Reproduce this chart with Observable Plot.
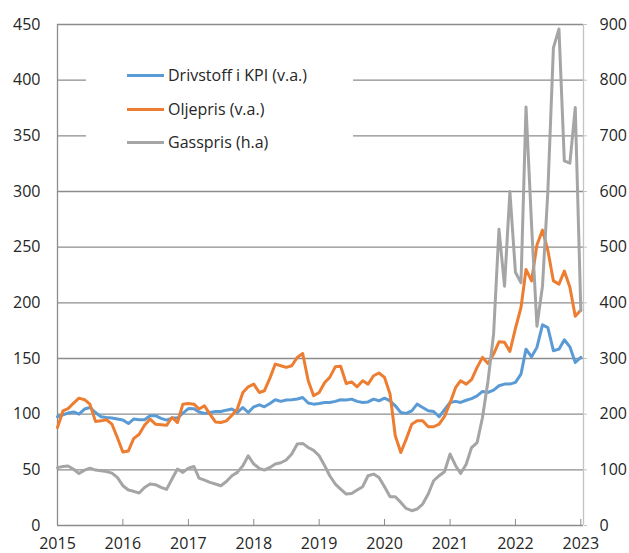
<!DOCTYPE html>
<html><head><meta charset="utf-8">
<script src="https://cdn.jsdelivr.net/npm/d3@7"></script>
<script src="https://cdn.jsdelivr.net/npm/@observablehq/plot@0.6"></script>
<style>
body{margin:0;background:#fff;font-family:"Open Sans",sans-serif;}
#wrap{position:relative;width:629px;height:553px;overflow:hidden;}
#legend{position:absolute;left:86px;top:56px;width:267px;height:108px;background:#fff;}
.row{position:absolute;left:0;height:20px;display:flex;align-items:center;font-size:16px;color:#262626;white-space:nowrap;}
.sw{display:inline-block;width:37px;height:3px;margin-left:41px;margin-right:4px;}
</style></head><body><div id="wrap"></div>
<script>
const startMonth = "2015-01-01";
const endDomain = "2023-01-16";
const seriesNames = ["Drivstoff i KPI (v.a.)", "Oljepris (v.a.)", "Gasspris (h.a)"];
const seriesColors = ["#5b9bd5", "#ed7d31", "#a5a5a5"];
const leftTicks = [0, 50, 100, 150, 200, 250, 300, 350, 400, 450];
const yearTicks = [2015, 2016, 2017, 2018, 2019, 2020, 2021, 2022, 2023];

// Drivstoff i KPI (venstre akse), månedlig 2015-01 .. 2023-01
const drivstoff = [
  97.7, 99.5, 101, 102, 100, 104.6, 106, 101.5, 97.7, 97, 96.5, 95.6,
  94.7, 91.6, 95.6, 95, 95, 98.6, 98.6, 96.2, 94.7, 96.5, 96.5, 101,
  105, 104.8, 102, 100.7, 101.5, 102.4, 102.4, 103.6, 104.6, 101.5, 106, 101.5,
  106.6, 108.4, 106.6, 109.6, 113, 111.5, 112.7, 113, 113.6, 115, 110, 109,
  109.5, 110.5, 110.5, 111.5, 113, 112.7, 113.5, 111.5, 110.5, 111, 113.5, 112,
  114.4, 112, 107.5, 101.5, 100.7, 103, 109, 106, 103, 102.4, 97.7, 104,
  110.5, 111.5, 110.5, 112.5, 114, 116.5, 120.4, 119.5, 121.6, 125.5, 127, 127,
  128.5, 136, 158.4, 151.5, 160, 180.2, 177.8, 157, 158.4, 166.8, 160.5, 146.4,
  151
];
// Oljepris (venstre akse)
const oljepris = [
  88, 103, 105, 110, 114.4, 113, 109, 93.5, 94, 95, 91, 79,
  66, 67, 78, 82, 90, 95.6, 91, 90.5, 90, 97, 92.5, 109,
  109.5, 109, 104.6, 107.5, 100, 93, 92.5, 94, 99, 104.6, 119.5, 124.6,
  127, 119.5, 121, 132.4, 145, 143.5, 142, 143.5, 151, 154.5, 130, 116.5,
  119.5, 128.5, 133, 142.5, 143, 127.6, 129, 124.6, 130, 127, 134.5, 137,
  133, 118, 80.6, 65.6, 77.6, 91, 94, 94, 88.7, 88.7, 91, 98,
  110, 124, 130, 127, 131, 142, 151, 145.5, 154, 165, 164.6, 156.3,
  177, 195.8, 230, 219.7, 252, 265.3, 247, 219.7, 216.8, 228.5, 214, 188,
  193.5
];
// Gasspris (høyre akse)
const gasspris = [
  104, 106, 107, 101, 93.5, 99.5, 103, 99.5, 98.4, 97, 94, 86.4,
  71.5, 63.7, 61.4, 58.3, 68.4, 74.5, 73.3, 68.4, 64.8, 83.4, 101.4, 95.4,
  103, 106, 85.2, 81.6, 77.4, 74.5, 71.5, 79, 89.4, 95.4, 107.4, 125.3,
  110.4, 102.5, 99.5, 104.3, 110.4, 112.7, 117.6, 128.4, 146.3, 147.5, 140.2, 135,
  125.3, 107.4, 89.4, 74.5, 65.5, 56.5, 57.6, 63.7, 69.7, 89.4, 92.4, 86.4,
  69.7, 51.7, 51.7, 41.5, 30.7, 26.6, 29.6, 38.6, 56.5, 80.4, 89.4, 96.6,
  128.4, 107.4, 93.5, 110, 140, 149, 194, 260, 344, 532, 430, 600,
  455, 436, 752, 540, 358, 430, 600, 858, 892, 655, 651, 751,
  386
];

const start = new Date(startMonth);
const monthDate = i => d3.utcMonth.offset(start, i);
const rows = [];
[drivstoff, oljepris, gasspris].forEach((arr, s) => {
  arr.forEach((v, i) => rows.push({date: monthDate(i), value: v, series: seriesNames[s], right: s === 2}));
});
const yearDates = yearTicks.map(y => new Date(Date.UTC(y, 0, 1)));
const xStart = new Date(startMonth), xEnd = new Date(endDomain);

const chart = Plot.plot({
  width: 629,
  height: 553,
  marginLeft: 57,
  marginRight: 46,
  marginTop: 24,
  marginBottom: 28,
  style: {fontFamily: "'Open Sans', sans-serif", fontSize: "16px", color: "#262626", background: "#fff", overflow: "visible"},
  x: {type: "utc", domain: [xStart, xEnd]},
  y: {domain: [0, 450]},
  color: {domain: seriesNames, range: seriesColors},
  marks: [
    Plot.ruleY(leftTicks, {stroke: "#8c8c8c", strokeWidth: 1.3}),
    Plot.ruleX([xStart], {stroke: "#8c8c8c", strokeWidth: 1.3}),
    Plot.ruleX([xEnd], {stroke: "#c4c4c4", strokeWidth: 1.3}),
    Plot.axisY(leftTicks, {anchor: "left", tickSize: 0, tickPadding: 17, label: null, fontSize: 16}),
    Plot.axisY(leftTicks, {anchor: "right", tickSize: 3, tickPadding: 13, stroke: "#c4c4c4", label: null, fontSize: 16, tickFormat: d => String(d * 2)}),
    Plot.axisX(yearDates, {anchor: "bottom", tickSize: 6, dy: -6, stroke: "#8c8c8c", tickFormat: () => "", label: null}),
    Plot.axisX(yearDates, {anchor: "bottom", tickSize: 0, tickPadding: 12, label: null, fontSize: 16, tickFormat: d => String(d.getUTCFullYear())}),
    Plot.line(rows, {
      x: "date",
      y: d => d.right ? d.value / 2 : d.value,
      z: "series",
      stroke: "series",
      strokeWidth: 3,
      strokeLinejoin: "round",
      strokeLinecap: "round"
    })
  ]
});

const wrap = document.getElementById("wrap");
wrap.appendChild(chart);

const legend = document.createElement("div");
legend.id = "legend";
const rowTops = [9, 43, 76];
seriesNames.forEach((name, i) => {
  const r = document.createElement("div");
  r.className = "row";
  r.style.top = rowTops[i] + "px";
  const sw = document.createElement("span");
  sw.className = "sw";
  sw.style.background = seriesColors[i];
  const t = document.createElement("span");
  t.textContent = name;
  r.appendChild(sw);
  r.appendChild(t);
  legend.appendChild(r);
});
wrap.appendChild(legend);
</script>
</body></html>
